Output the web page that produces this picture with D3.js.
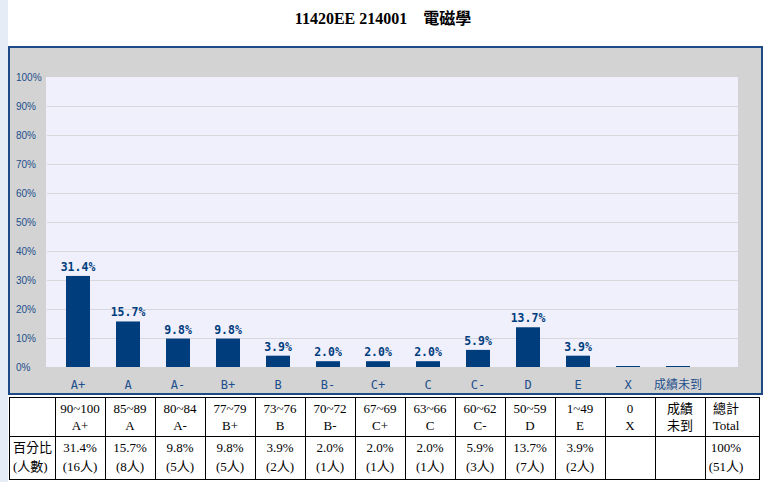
<!DOCTYPE html>
<html>
<head>
<meta charset="utf-8">
<script src="https://cdn.jsdelivr.net/npm/d3@7"></script>
<style>
html,body{margin:0;padding:0;background:#fff;}
svg{display:block;}
</style>
</head>
<body>
<svg id="chart" width="765" height="482"></svg>
<script>
const title = "11420EE 214001\u3000電磁學";
const categories = ["A+","A","A-","B+","B","B-","C+","C","C-","D","E","X","成績未到"];
const values = [31.4,15.7,9.8,9.8,3.9,2.0,2.0,2.0,5.9,13.7,3.9,0,0];
const yTicks = [0,10,20,30,40,50,60,70,80,90,100];
const rangeLabels = ["90~100","85~89","80~84","77~79","73~76","70~72","67~69","63~66","60~62","50~59","1~49","0","成績"];
const gradeLabels = ["A+","A","A-","B+","B","B-","C+","C","C-","D","E","X","未到"];
const percentLabels = ["31.4%","15.7%","9.8%","9.8%","3.9%","2.0%","2.0%","2.0%","5.9%","13.7%","3.9%","",""];
const counts = [16,8,5,5,2,1,1,1,3,7,2,null,null];
const rowHeader = ["百分比","(人數)"];
const totalHeader = ["總計","Total"];
const totalRow = ["100%","(51人)"];

const svg = d3.select("#chart");
const blue = "#003d7d";
const labelBlue = "#1d4f8c";

// left background strip
svg.append("rect").attr("x",0).attr("y",0).attr("width",8).attr("height",482).attr("fill","#e6ecf6");

// title
svg.append("text").attr("x",383).attr("y",24).attr("text-anchor","middle")
  .attr("font-family","'Liberation Serif','Noto Sans CJK TC',serif").attr("font-weight","bold")
  .attr("font-size",16).attr("fill","#000").text(title);

// frame
svg.append("rect").attr("x",9).attr("y",47).attr("width",753).attr("height",347)
  .attr("fill","#d3d3d3").attr("stroke","#1c4a85").attr("stroke-width",2);

const y = d3.scaleLinear().domain([0,100]).range([367,77]);
const x = d3.scaleBand().domain(categories).range([53,703]).paddingInner(0.52).paddingOuter(0.26);

// plot area
svg.append("rect").attr("x",46).attr("y",y(100)).attr("width",692).attr("height",y(0)-y(100)).attr("fill","#f0f0fc");

// gridlines
svg.append("g").selectAll("line").data(yTicks.filter(t=>t>0&&t<100)).join("line")
  .attr("x1",47).attr("x2",738).attr("y1",d=>y(d)+0.5).attr("y2",d=>y(d)+0.5)
  .attr("stroke","#d8d8dc").attr("stroke-width",1);

// y labels
svg.append("g").selectAll("text").data(yTicks).join("text")
  .attr("x",16).attr("y",d=>y(d)).attr("dy","0.35em")
  .attr("font-family","'Liberation Sans',Arial,sans-serif").attr("font-size",10)
  .attr("fill",labelBlue).text(d=>d+"%");

// bars
svg.append("g").selectAll("rect").data(categories).join("rect")
  .attr("x",d=>x(d)).attr("width",x.bandwidth())
  .attr("y",(d,i)=>Math.min(y(values[i]), y(0)-1))
  .attr("height",(d,i)=>Math.max(1, y(0)-y(values[i])))
  .attr("fill",blue);

// value labels
svg.append("g").selectAll("text").data(categories.filter((d,i)=>values[i]>0)).join("text")
  .attr("x",d=>x(d)+x.bandwidth()/2)
  .attr("y",d=>y(values[categories.indexOf(d)])-5)
  .attr("text-anchor","middle")
  .attr("font-family","'DejaVu Sans Mono',monospace").attr("font-weight","bold").attr("font-size",11.5)
  .attr("fill",blue).text(d=>values[categories.indexOf(d)].toFixed(1)+"%");

// x labels
svg.append("g").selectAll("text").data(categories).join("text")
  .attr("x",d=>x(d)+x.bandwidth()/2).attr("y",389)
  .attr("text-anchor","middle")
  .attr("font-family","'DejaVu Sans Mono','Noto Sans CJK TC',monospace").attr("font-size",12)
  .attr("fill",labelBlue).text(d=>d);

// table
const tx = d3.scaleBand().domain(categories).range([55,705]);
const tTop = 397, tMid = 436, tBot = 479, tLeft = 9, tRight = 759;
const tg = svg.append("g").attr("stroke","#000").attr("stroke-width",1).attr("shape-rendering","crispEdges");
[tTop,tMid,tBot].forEach(yy=>tg.append("line").attr("x1",tLeft).attr("x2",tRight).attr("y1",yy+0.5).attr("y2",yy+0.5));
const vlines = [tLeft].concat(categories.map(c=>tx(c))).concat([705,tRight]);
vlines.forEach(xx=>tg.append("line").attr("x1",xx+0.5).attr("x2",xx+0.5).attr("y1",tTop).attr("y2",tBot+1));

const tfont = "'Liberation Serif','Noto Sans CJK TC',serif";
const cell = (xx,yy,t,anchor)=>svg.append("text").attr("x",xx).attr("y",yy)
  .attr("text-anchor",anchor||"middle").attr("font-family",tfont).attr("font-size",13)
  .attr("fill","#000").text(t);

categories.forEach((c,i)=>{
  const cx = tx(c)+tx.bandwidth()/2;
  cell(cx,413,rangeLabels[i]);
  cell(cx,430,gradeLabels[i]);
  if(counts[i]!==null){
    cell(cx,452,percentLabels[i]);
    cell(cx,471,"("+counts[i]+"人)");
  }
});
cell(726,413,totalHeader[0]);
cell(726,430,totalHeader[1]);
cell(726,452,totalRow[0]);
cell(726,471,totalRow[1]);
cell(13,452,rowHeader[0],"start");
cell(13,471,rowHeader[1],"start");
</script>
</body>
</html>
